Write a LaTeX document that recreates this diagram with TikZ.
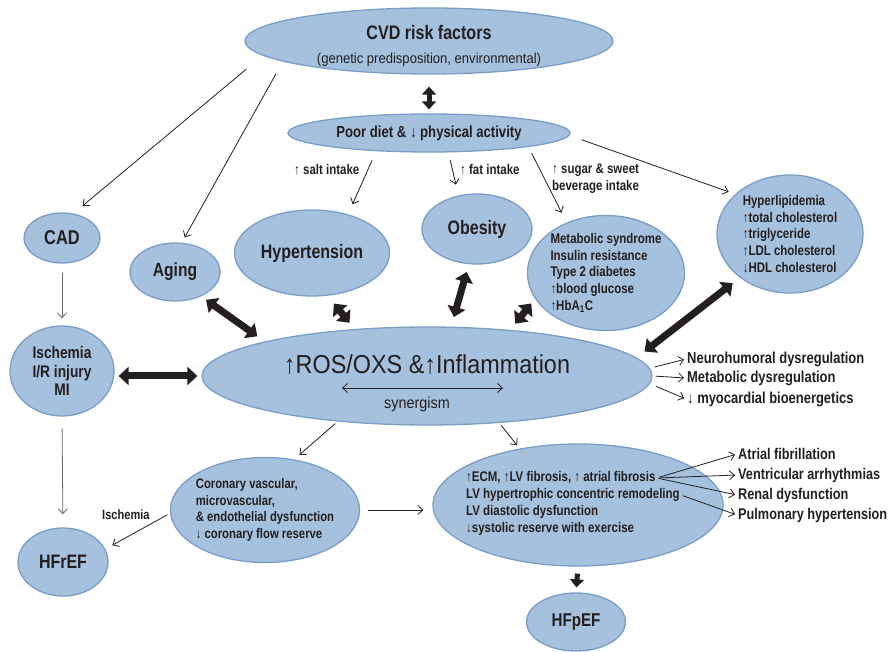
\documentclass[tikz,border=0pt]{standalone}
\usepackage{fontspec}
\setmainfont{Liberation Sans}[FakeStretch=0.82]
\newfontfamily\fin{Liberation Sans}[FakeStretch=0.9]
\usepackage{tikz}
\usetikzlibrary{arrows.meta,shapes,calc}
\usepackage{xcolor}
\definecolor{Bulle}{RGB}{166,193,221}
\definecolor{BulleBord}{RGB}{122,157,200}
\definecolor{Encre}{RGB}{35,31,32}
\definecolor{Gris}{RGB}{105,105,105}
\newcommand{\taille}[2]{\fontsize{#1}{#2}\selectfont}

\begin{document}
\begin{tikzpicture}[x=1pt,y=-1pt,
  bulle/.style={ellipse,draw=BulleBord,fill=Bulle,line width=1.3pt,inner sep=-4pt,text=Encre},
  lab/.style={text=Encre,font=\bfseries\taille{14}{17},inner sep=1pt},
  fleche/.style={-{Straight Barb[length=5pt,width=9pt]},line width=0.8pt,draw=Encre},
  grosse/.style={{Triangle[length=10pt,width=18pt]}-{Triangle[length=10pt,width=18pt]},line width=7pt,draw=Encre,fill=Encre},
  moyenne/.style={{Triangle[length=8pt,width=14pt]}-{Triangle[length=8pt,width=14pt]},line width=5pt,draw=Encre,fill=Encre}]
\useasboundingbox (0,0) rectangle (892,652);
%
% ellipses
\node[bulle,minimum width=368pt,minimum height=66pt,align=center,font=\bfseries\taille{19.6}{24}] (cvd) at (429,41)
  {\rule{0pt}{24pt}CVD risk factors\\{\fin\mdseries\taille{14.5}{17}(genetic predisposition, environmental)}};
\node[bulle,minimum width=282pt,minimum height=38pt,font=\bfseries\taille{16}{19}] (diet) at (429,133) {Poor diet \& ↓ physical activity};
\node[bulle,minimum width=76pt,minimum height=50pt,font=\bfseries\taille{20}{23}] (cad) at (62,238) {CAD};
\node[bulle,minimum width=90pt,minimum height=58pt,font=\bfseries\taille{19}{22}] (aging) at (175,272) {Aging};
\node[bulle,minimum width=155pt,minimum height=86pt,font=\bfseries\taille{19.5}{22}] (hyper) at (312,253) {Hypertension};
\node[bulle,minimum width=110pt,minimum height=70pt,font=\bfseries\taille{19.5}{22}] (obes) at (477,229) {Obesity};
\node[bulle,minimum width=157pt,minimum height=115pt,align=left,font=\bfseries\taille{14}{16.7}] (meta) at (606,273)
  {Metabolic syndrome\\Insulin resistance\\Type 2 diabetes\\↑blood glucose\\↑HbA\textsubscript{1}C};
\node[bulle,minimum width=146pt,minimum height=118pt,align=left,font=\bfseries\taille{14}{16.7}] (lipid) at (790,234)
  {Hyperlipidemia\\↑total cholesterol\\↑triglyceride\\↑LDL cholesterol\\↓HDL cholesterol};
\node[bulle,minimum width=104pt,minimum height=90pt,align=center,font=\bfseries\taille{16.8}{18.5}] (isch) at (62,371)
  {Ischemia\\I/R injury\\MI};
\node[bulle,minimum width=450pt,minimum height=98pt] (ros) at (427,376) {};
\node[bulle,minimum width=189pt,minimum height=105pt,align=left,font=\bfseries\taille{13.8}{16.7}] (coron) at (265,510)
  {Coronary vascular,\\microvascular,\\\& endothelial dysfunction\\↓ coronary flow reserve};
\node[bulle,minimum width=290pt,minimum height=122pt] (ecm) at (578,505) {};
\node[bulle,minimum width=90pt,minimum height=68pt,font=\bfseries\taille{19.5}{22}] (hfref) at (63,562) {HFrEF};
\node[bulle,minimum width=99pt,minimum height=58pt,font=\bfseries\taille{18.5}{22}] (hfpef) at (576,622) {HFpEF};
%
% texts inside the big ellipses
\node[lab,font=\fin\taille{26}{30}] (rostitre) at (427,364) {↑ROS/OXS \&↑Inflammation};
\node[lab,font=\fin\taille{16}{19}] (synergie) at (417,404) {synergism};
\coordinate (synL) at (342,388);
\coordinate (synR) at (503,388);
\node[lab,anchor=west,font=\bfseries\taille{14}{17}] (ecm1) at (465,478) {↑ECM, ↑LV fibrosis, ↑ atrial fibrosis};
\node[lab,anchor=west,font=\bfseries\taille{14}{17}] (ecm2) at (465,495) {LV hypertrophic concentric remodeling};
\node[lab,anchor=west,font=\bfseries\taille{14}{17}] (ecm3) at (465,512) {LV diastolic dysfunction};
\node[lab,anchor=west,font=\bfseries\taille{14}{17}] (ecm4) at (465,529) {↓systolic reserve with exercise};
%
% labels
\node[lab,anchor=west] (sel) at (293,170) {↑ salt intake};
\node[lab,anchor=west] (gras) at (459,170) {↑ fat intake};
\node[lab,anchor=west,align=left] (sucre) at (551,179) {↑ sugar \& sweet\\beverage intake};
\node[lab,anchor=west,font=\bfseries\taille{13.5}{16}] (ischlab) at (101,515) {Ischemia};
\node[lab,anchor=west,font=\bfseries\taille{15.8}{18}] (neuro) at (686,359) {Neurohumoral dysregulation};
\node[lab,anchor=west,font=\bfseries\taille{15.8}{18}] (metab) at (686,378) {Metabolic dysregulation};
\node[lab,anchor=west,font=\bfseries\taille{15.8}{18}] (bioen) at (686,399) {↓ myocardial bioenergetics};
\node[lab,anchor=west,font=\bfseries\taille{15.5}{18}] (afib) at (737,454) {Atrial fibrillation};
\node[lab,anchor=west,font=\bfseries\taille{15.5}{18}] (varr) at (737,475) {Ventricular arrhythmias};
\node[lab,anchor=west,font=\bfseries\taille{15.5}{18}] (renal) at (737,495) {Renal dysfunction};
\node[lab,anchor=west,font=\bfseries\taille{15.5}{18}] (pulm) at (737,515) {Pulmonary hypertension};
%
% thin arrows
\draw[fleche,shorten <=21pt,shorten >=12pt] (cvd.185) -- (cad.65);
\draw[fleche,shorten <=14pt,shorten >=6pt] (cvd.188) -- (aging.77);
\draw[fleche,shorten <=10pt,shorten >=11pt] (diet.199) -- (hyper.47);
\draw[fleche,shorten <=8pt,shorten >=11pt] (diet.-45) -- (obes.119);
\draw[fleche,shorten <=7pt,shorten >=11pt] (diet.-8) -- (meta.128);
\draw[fleche,shorten <=13pt,shorten >=7pt] (diet.-1) -- (lipid.144);
\draw[fleche,draw=Gris,shorten <=9pt,shorten >=7pt] (cad.south) -- (isch.north);
\draw[fleche,draw=Gris,shorten <=12pt,shorten >=13pt] (isch.south) -- (hfref.north);
\draw[fleche,shorten <=3pt,shorten >=7pt] (ros.207) -- (coron.60);
\draw[fleche,shorten <=3pt,shorten >=4pt] (ros.-33.7) -- (ecm.136);
\draw[fleche,shorten <=8pt,shorten >=9pt] (coron.east) -- (coron.east -| ecm.west);
\draw[fleche,shorten <=3pt,shorten >=8pt] (coron.182) -- (hfref.17);
\draw[fleche,{Straight Barb[length=5pt,width=9pt]}-{Straight Barb[length=5pt,width=9pt]}] (synL) -- (synR);
%
\draw[fleche,shorten <=5pt,shorten >=2pt] (ros.2) -- (neuro.west);
\draw[fleche,shorten <=3pt,shorten >=2pt] (ros.east) -- (metab.west);
\draw[fleche,shorten <=7pt,shorten >=2pt] (ros.-2.3) -- (bioen.west);
\draw[fleche,shorten <=2pt,shorten >=2pt] (ecm1.east) -- (afib.west);
\draw[fleche,shorten <=4pt,shorten >=2pt] (ecm1.east) -- (varr.west);
\draw[fleche,shorten <=2pt,shorten >=2pt] (ecm1.east) -- (renal.west);
\draw[fleche,shorten <=2pt,shorten >=2pt] (ecm2.east) -- (pulm.west);
%
% thick arrows
\draw[moyenne,shorten <=12pt,shorten >=4pt] (cvd.south) -- (diet.north);
\draw[grosse,shorten <=6pt,shorten >=9pt] (aging.-43) -- (ros.168.5);
\draw[grosse,shorten <=10pt,shorten >=8pt] (hyper.-70.3) -- (ros.147.2);
\draw[grosse,shorten <=8pt,shorten >=10pt] (obes.257.6) -- (ros.64.9);
\draw[grosse,shorten <=6pt,shorten >=8pt] (meta.200.7) -- (ros.29.7);
\draw[grosse,shorten <=9pt,shorten >=10pt] (lipid.221) -- (ros.5.2);
\draw[grosse,shorten <=4pt,shorten >=4pt] (ros.west -| isch.east) -- (ros.west);
\draw[moyenne,-{Triangle[length=8pt,width=14pt]},shorten <=7pt,shorten >=5pt] (ecm.south) -- (hfpef.north);
\end{tikzpicture}
\end{document}
